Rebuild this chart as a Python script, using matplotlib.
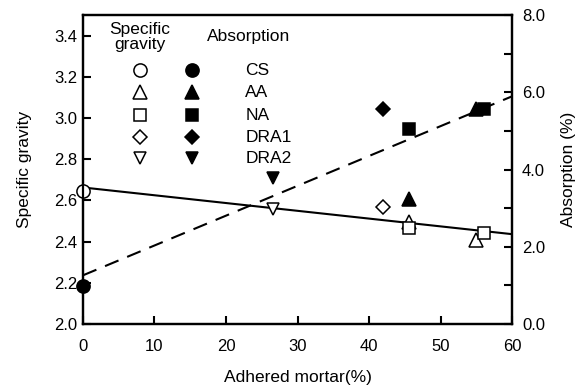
import matplotlib
matplotlib.use("Agg")
import matplotlib.pyplot as plt
import numpy as np

plt.rcParams['font.family'] = ['Liberation Sans', 'DejaVu Sans']
plt.rcParams['font.size'] = 11

# Data: adhered mortar (%), specific gravity, absorption (%)
materials = ["CS", "AA", "NA", "DRA1", "DRA2"]
mortar_cs = [0.0]
sg_cs = [2.645]
abs_cs = [0.98]

mortar_aa = [45.6, 55.0]
sg_aa = [2.495, 2.41]
abs_aa = [3.23, 5.58]

mortar_na = [45.6, 56.0]
sg_na = [2.465, 2.44]
abs_na = [5.06, 5.58]

mortar_dra1 = [41.9]
sg_dra1 = [2.567]
abs_dra1 = [5.58]

mortar_dra2 = [26.5]
sg_dra2 = [2.56]
abs_dra2 = [3.77]

# Regression lines (intercept, slope)
sg_fit = (2.663, -0.00378)
abs_fit = (1.26, 0.0773)
fit_x = [0.0, 60.0]

x_ticks = [0, 10, 20, 30, 40, 50, 60]
sg_ticks = [2.0, 2.2, 2.4, 2.6, 2.8, 3.0, 3.2, 3.4]
abs_ticks = [0.0, 1.0, 2.0, 3.0, 4.0, 5.0, 6.0, 7.0, 8.0]

fig = plt.figure(figsize=(5.84, 3.88), dpi=100)
ax = fig.add_axes([0.142, 0.165, 0.735, 0.796])
ax2 = ax.twinx()

mk = dict(linestyle='none', markeredgewidth=1.1, color='black', clip_on=False)
open_kw = dict(mk, markerfacecolor='white')
fill_kw = dict(mk, markerfacecolor='black')
sizes = {'o': 9.5, '^': 9.5, 's': 9, 'D': 7.5, 'v': 9}

series = [
    (mortar_cs, sg_cs, abs_cs, 'o'),
    (mortar_aa, sg_aa, abs_aa, '^'),
    (mortar_na, sg_na, abs_na, 's'),
    (mortar_dra1, sg_dra1, abs_dra1, 'D'),
    (mortar_dra2, sg_dra2, abs_dra2, 'v'),
]
for x, sg, ab, m in series:
    ax.plot(x, sg, marker=m, markersize=sizes[m], **open_kw, zorder=5)
    ax2.plot(x, ab, marker=m, markersize=sizes[m], **fill_kw, zorder=5)

fx = np.array(fit_x)
ax.plot(fx, sg_fit[0] + sg_fit[1] * fx, color='black', lw=1.5, zorder=4)
ax2.plot(fx, abs_fit[0] + abs_fit[1] * fx, color='black', lw=1.5,
         linestyle=(0, (7, 4.5)), zorder=4)

ax.set_xlim(0, 60)
ax.set_ylim(2.0, 3.5)
ax2.set_ylim(0, 8.0)
ax.set_xticks(x_ticks)
ax.set_yticks(sg_ticks)
ax.set_yticklabels([f"{v:.1f}" for v in sg_ticks])
ax2.set_yticks(abs_ticks)
ax2.set_yticklabels([f"{v:.1f}" if v % 2 == 0 else "" for v in abs_ticks])

for a in (ax, ax2):
    for s in a.spines.values():
        s.set_linewidth(1.6)
    a.tick_params(direction='in', length=6, width=1.5, labelsize=12)
ax.tick_params(axis='x', pad=11)
ax.tick_params(axis='y', pad=4)
ax2.tick_params(axis='y', pad=7)

ax.set_xlabel("Adhered mortar(%)", fontsize=12.5)
ax.set_ylabel("Specific gravity", fontsize=12.5)
ax2.set_ylabel("Absorption (%)", fontsize=12.5)
ax.xaxis.set_label_coords(0.5, -0.172)
ax.yaxis.set_label_coords(-0.135, 0.5)
ax2.yaxis.set_label_coords(1.131, 0.5)
ax.xaxis.label.set_va('center')
ax.yaxis.label.set_va('center')
ax2.yaxis.label.set_va('center')

# Custom legend
t = ax.transAxes
ax.text(0.133, 0.929, "Specific\ngravity", transform=t, ha='center', va='center',
        fontsize=12.5, linespacing=1.0)
ax.text(0.385, 0.932, "Absorption", transform=t, ha='center', va='center', fontsize=12.5)
rows_y = [0.822, 0.751, 0.676, 0.605, 0.537]
markers = ['o', '^', 's', 'D', 'v']
for name, m, yy in zip(materials, markers, rows_y):
    ax.plot([0.133], [yy], marker=m, markersize=sizes[m], transform=t, **open_kw)
    ax.plot([0.254], [yy], marker=m, markersize=sizes[m], transform=t, **fill_kw)
    ax.text(0.378, yy, name, transform=t, ha='left', va='center', fontsize=12.5)

fig.savefig("out.png", dpi=100)
